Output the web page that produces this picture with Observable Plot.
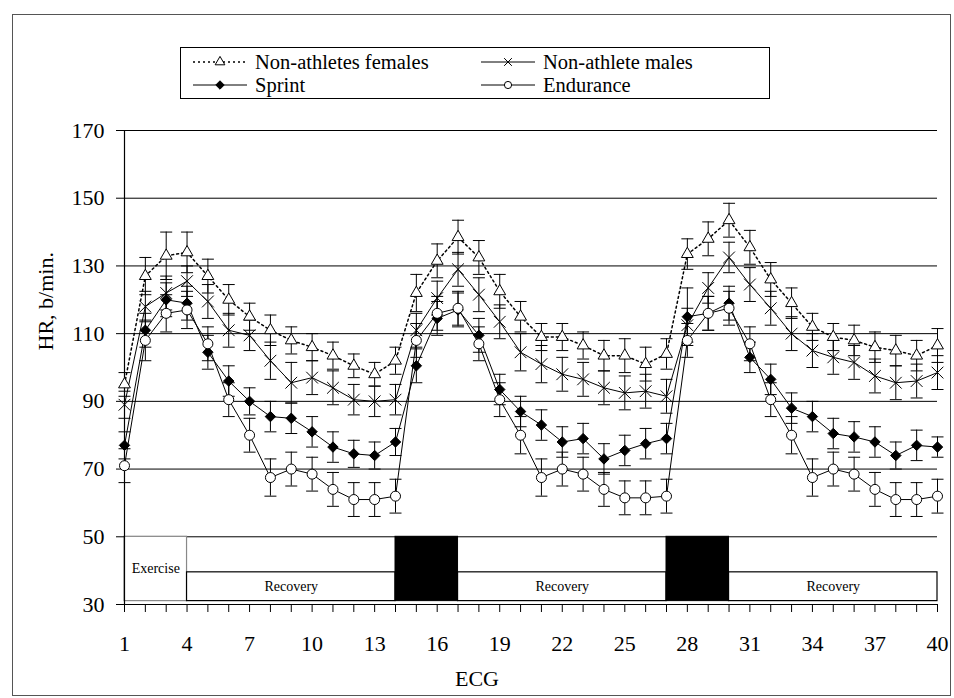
<!DOCTYPE html>
<html><head><meta charset="utf-8">
<script src="https://cdn.jsdelivr.net/npm/d3@7"></script>
<script src="https://cdn.jsdelivr.net/npm/@observablehq/plot@0.6"></script>
<style>
body{margin:0;background:#fff;}
#wrap{position:relative;width:954px;height:698px;font-family:"Liberation Serif","Times New Roman",serif;overflow:hidden;}
#chart{position:absolute;left:0;top:0;}
#frame{position:absolute;left:12px;top:14px;width:937px;height:680px;border:1px solid #555;pointer-events:none;}
#legend{position:absolute;left:180px;top:47px;width:588px;height:50px;border:1px solid #000;background:#fff;font-size:20.5px;color:#000;font-family:"Liberation Serif","Times New Roman",serif;}
.item{position:absolute;display:flex;align-items:center;height:22px;line-height:22px;white-space:nowrap;font-family:"Liberation Serif","Times New Roman",serif;}
.item svg{margin-right:6px;}
</style></head><body>
<div id="wrap"><div id="chart"></div><div id="frame"></div><div id="legend"></div></div>
<script>
// ECG measurement index (x)
const ecg = [1,2,3,4,5,6,7,8,9,10,11,12,13,14,15,16,17,18,19,20,21,22,23,24,25,26,27,28,29,30,31,32,33,34,35,36,37,38,39,40];
const xLabels = [1,4,7,10,13,16,19,22,25,28,31,34,37,40];
const yTicks = [30,50,70,90,110,130,150,170];
const gridLines = [50,70,90,110,130,150,170];

// Series values (HR, b/min.)
const females = [95,127,133,134,127,120,115,111,108,106,103.5,100.5,98,102,
  122,131.5,138.5,132.5,122.5,115,109,109,106.5,103.5,103.5,101,104,
  133.5,138,143.5,135.5,126,119,112,109,108,106,105,103.5,106.5];
const males = [89,118,122,125.5,119.5,111,109.5,102,95.5,97,94,90.5,90,90.5,
  111,120.5,129,121.5,113.5,104.5,101,98,96.5,94,92.5,93,91.5,
  112.5,123.5,132.5,124.5,117.5,110,105,103,101.5,97.5,95.5,96,98.5];
const sprint = [77,111,120,119,104.5,96,90,85.5,85,81,76.5,74.5,74,78,
  100.5,114.5,117,109.5,93.5,87,83,78,79,73,75.5,77.5,79,
  115,116,119,103,96.5,88,85.5,80.5,79.5,78,74,77,76.5];
const endurance = [71,108,116,117,107,90.5,80,67.5,70,68.5,64,61,61,62,
  108,116,117.5,107,90.5,80,67.5,70,68.5,64,61.5,61.5,62,
  108,116,117.5,107,90.5,80,67.5,70,68.5,64,61,61,62];

// Error bar half-widths
const femalesErr = [3.5,5.5,7,6,5,4.5,4,4.5,4,4,4,3.5,3.5,4,
  5.5,5,5,5,5,4.5,4,4,4,4.5,5,5,4.5,
  4.5,5,5,5,5,4.5,4,4,4.5,4.5,4.5,4.5,5];
const malesErr = [4,4.5,5,4.5,5,5,4.5,5.5,6,5,5,4.5,4.5,4.5,
  5,5,5,5,5,5.5,5.5,5,5,5,5,5,5,
  5,4.5,4.5,5,5,5,5,5,5,5,5,5,5];
const sprintErr = [4,5,5,5,5,4.5,4,4.5,4.5,4.5,4.5,4,4,4,
  5,5,5,5,4.5,4.5,4.5,4.5,4.5,4.5,4.5,4.5,4.5,
  8.5,5,5,4.5,4.5,4.5,4.5,4.5,4.5,4.5,4,4.5,3];
const enduranceErr = [5,6,5.5,5.5,5,5,5,5.5,5,5,5,5,5,5,
  5,5,5,5,5,5.5,5.5,5,5,5,5,5,5,
  5,5,5,5,5,5.5,5.5,5,5,5,5,5,5];

// Protocol phase boxes
const phaseStart = [1,4,14,17,27,30];
const phaseEnd = [4,14,17,27,30,40];
const phaseTop = [50,39.5,50,39.5,50,39.5];
const phaseBottom = [31,31,31,31,31,31];
const phaseLabel = ["Exercise","Recovery","","Recovery","","Recovery"];
const phaseKind = ["exercise","recovery","load","recovery","load","recovery"];

const seriesNames = ["Non-athletes females","Non-athlete males","Sprint","Endurance"];
const seriesDefs = [
  {name: seriesNames[0], values: females, err: femalesErr, symbol: "triangle", fill: "white", r: 4.4, dash: "2,3", sw: 1.5},
  {name: seriesNames[1], values: males, err: malesErr, symbol: "times", fill: "none", r: 5.4, dash: null, sw: 1},
  {name: seriesNames[2], values: sprint, err: sprintErr, symbol: "diamond2", fill: "black", r: 4.7, dash: null, sw: 1},
  {name: seriesNames[3], values: endurance, err: enduranceErr, symbol: "circle", fill: "white", r: 5, dash: null, sw: 1}
];
const tables = seriesDefs.map(s => ecg.map((x, i) => ({x, y: s.values[i], lo: s.values[i] - s.err[i], hi: s.values[i] + s.err[i]})));
const phases = phaseStart.map((s, i) => ({x1: s, x2: phaseEnd[i], y1: phaseBottom[i], y2: phaseTop[i], label: phaseLabel[i], kind: phaseKind[i]}));

const serif = '"Liberation Serif","Times New Roman",serif';
const cap = {draw(ctx, size) { const w = 6; ctx.moveTo(-w, 0); ctx.lineTo(w, 0); }};

const marks = [
  Plot.ruleY(gridLines, {stroke: "black", strokeWidth: 1}),
  Plot.rect(phases.filter(d => d.kind === "exercise"), {x1: "x1", x2: "x2", y1: "y1", y2: "y2", fill: "white", stroke: "#888", strokeWidth: 1.2}),
  Plot.rect(phases.filter(d => d.kind === "recovery"), {x1: "x1", x2: "x2", y1: "y1", y2: "y2", fill: "white", stroke: "black", strokeWidth: 1.2}),
  Plot.rect(phases.filter(d => d.kind === "load"), {x1: "x1", x2: "x2", y1: "y1", y2: "y2", fill: "black", stroke: "black"}),
  Plot.text(phases.filter(d => d.label), {x: d => (d.x1 + d.x2) / 2, y: d => (d.y1 + d.y2) / 2, text: "label", fontSize: 14, fontFamily: serif, fill: "black"}),
  Plot.ruleX([1], {stroke: "black", strokeWidth: 1.2}),
  Plot.ruleY([30], {stroke: "black", strokeWidth: 1.2}),
  Plot.axisY({ticks: yTicks, tickSize: 8, tickPadding: 12, fontSize: 22, fontFamily: serif, label: null}),
  Plot.axisX({ticks: ecg, tickSize: 8, tickPadding: 23, fontSize: 22, fontFamily: serif, label: null, tickFormat: d => xLabels.includes(d) ? String(d) : ""}),
  Plot.text(["HR, b/min."], {frameAnchor: "left", rotate: -90, dx: -79, dy: -17, fontSize: 22, fontFamily: serif, fill: "black"}),
  Plot.text(["ECG"], {frameAnchor: "bottom", dx: -54, dy: 81, fontSize: 22, fontFamily: serif, fill: "black"})
];
// lines
seriesDefs.forEach((s, k) => {
  marks.push(Plot.line(tables[k], {x: "x", y: "y", stroke: "black", strokeWidth: s.sw, strokeDasharray: s.dash || undefined}));
});
// error bars
seriesDefs.forEach((s, k) => {
  marks.push(Plot.ruleX(tables[k], {x: "x", y1: "lo", y2: "hi", stroke: "black", strokeWidth: 1}));
  marks.push(Plot.dot(tables[k], {x: "x", y: "hi", symbol: cap, r: 6, fill: "none", stroke: "black", strokeWidth: 1}));
  marks.push(Plot.dot(tables[k], {x: "x", y: "lo", symbol: cap, r: 6, fill: "none", stroke: "black", strokeWidth: 1}));
});
// markers
seriesDefs.forEach((s, k) => {
  marks.push(Plot.dot(tables[k], {x: "x", y: "y", symbol: s.symbol, r: s.r, fill: s.fill, stroke: "black", strokeWidth: 1}));
});

const chart = Plot.plot({
  width: 954, height: 698,
  marginLeft: 124, marginRight: 17, marginTop: 130, marginBottom: 94,
  x: {domain: [1, 40]},
  y: {domain: [30, 170]},
  style: {fontFamily: serif, color: "black", background: "transparent"},
  marks
});
document.getElementById("chart").appendChild(chart);

// Legend
const legend = document.getElementById("legend");
const legendPos = [[10, 3], [298, 3], [10, 26], [298, 26]];
const d3sym = {triangle: d3.symbolTriangle, times: d3.symbolTimes, diamond2: d3.symbolDiamond2, circle: d3.symbolCircle};
const legendSymR = [3.6, 3.6, 3.8, 3.6];
seriesDefs.forEach((s, k) => {
  const item = document.createElement("div");
  item.className = "item";
  item.style.left = legendPos[k][0] + "px";
  item.style.top = legendPos[k][1] + "px";
  const size = Math.PI * legendSymR[k] * legendSymR[k];
  const path = d3.symbol(d3sym[s.symbol], size)();
  item.innerHTML = `<svg width="58" height="18" viewBox="0 0 58 18">
    <line x1="2" x2="56" y1="9" y2="9" stroke="black" stroke-width="${s.sw}" ${s.dash ? `stroke-dasharray="${s.dash}"` : ""}/>
    <path d="${path}" transform="translate(29,9)" fill="${s.fill}" stroke="black" stroke-width="1"/>
  </svg><span>${s.name}</span>`;
  legend.appendChild(item);
});
</script>
</body></html>
